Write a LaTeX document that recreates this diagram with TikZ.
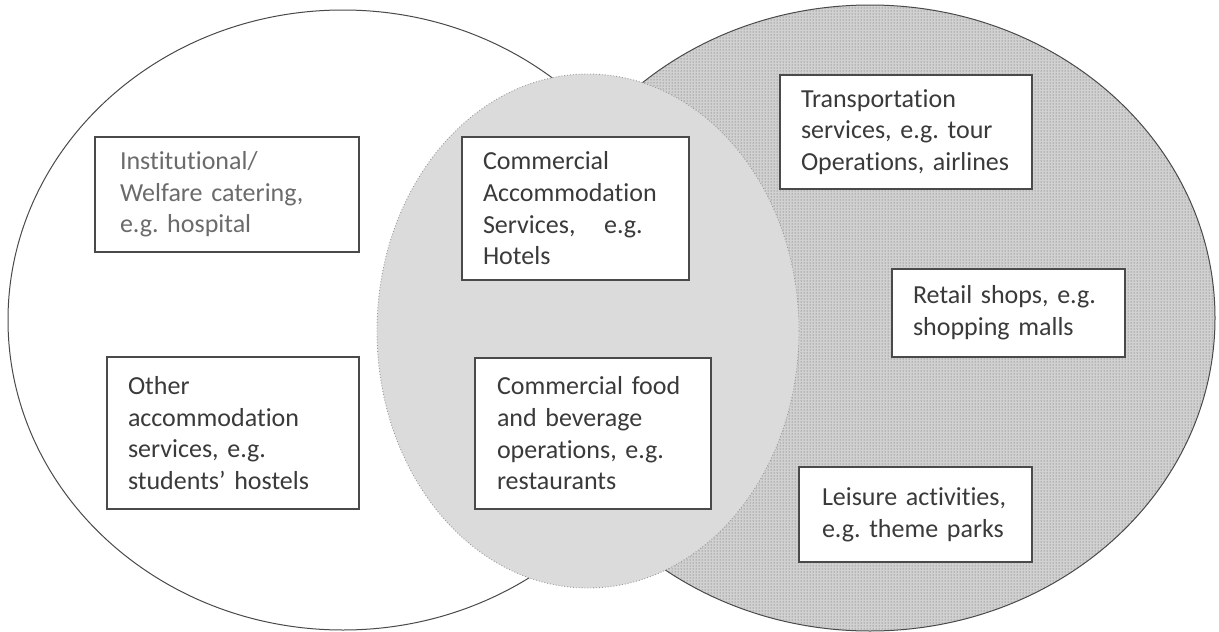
\documentclass[tikz,border=0pt]{standalone}
\usepackage{fontspec}
\setmainfont{Carlito}[Ligatures={NoCommon}]
\usepackage{tikz}
\usetikzlibrary{patterns}
\definecolor{ink}{HTML}{3A3A3A}
\definecolor{edge}{HTML}{4A4A4A}
\hyphenpenalty=10000
\exhyphenpenalty=10000

\begin{document}
\begin{tikzpicture}[x=1pt,y=-1pt,every node/.style={font=\fontsize{26}{31.7}\selectfont, text=ink}]
   \tikzstyle{box}=[draw=edge, line width=1.1pt, fill=white, align=left, inner ysep=0pt];
   \tikzstyle{set}=[draw=edge, line width=1pt];
   \useasboundingbox (0,0) rectangle (1219,632);
   % the three sets
   \draw[set, fill=white] (343,320) ellipse [x radius=335pt, y radius=310pt];
   \fill[gray!36] (870,318) ellipse [x radius=345pt, y radius=313pt];
   \fill[pattern=dots, pattern color=black!65] (870,318) ellipse [x radius=345pt, y radius=313pt];
   \draw[set] (870,318) ellipse [x radius=345pt, y radius=313pt];
   \draw[gray!80, dotted, line width=0.9pt, fill=gray!28] (588,331) ellipse [x radius=211pt, y radius=257pt];
   % left set
   \node[box, text width=214pt, inner xsep=25pt, minimum height=115pt, text=ink!75] (inst) at (227,194.5)
     {Institutional/\\Welfare~catering,\\e.g.~hospital};
   \node[box, text width=210pt, inner xsep=21pt, minimum height=152pt] (other) at (233,433)
     {Other\\accommodation\\services,~e.g.\\students'~hostels};
   % overlap
   \node[box, text width=185pt, inner xsep=21pt, minimum height=143pt] (accom) at (575.5,208.5)
     {Commercial\\Accommodation\\Services,\hspace*{1.1em}e.g.\\Hotels};
   \node[box, text width=192pt, inner xsep=22pt, minimum height=151pt] (food) at (593,433.5)
     {Commercial~food\\and~beverage\\operations,~e.g.\\restaurants};
   % right set
   \node[box, text width=210pt, inner xsep=21pt, minimum height=114pt] (trans) at (906,132)
     {Transportation\\services,~e.g.~tour\\Operations,~airlines};
   \node[box, text width=191pt, inner xsep=21pt, minimum height=88pt] (retail) at (1008.5,313)
     {Retail~shops,~e.g.\\shopping~malls};
   \node[box, text width=187pt, inner xsep=23pt, minimum height=95pt] (leisure) at (915.5,514.5)
     {Leisure~activities,\\e.g.~theme~parks};
\end{tikzpicture}
\end{document}
